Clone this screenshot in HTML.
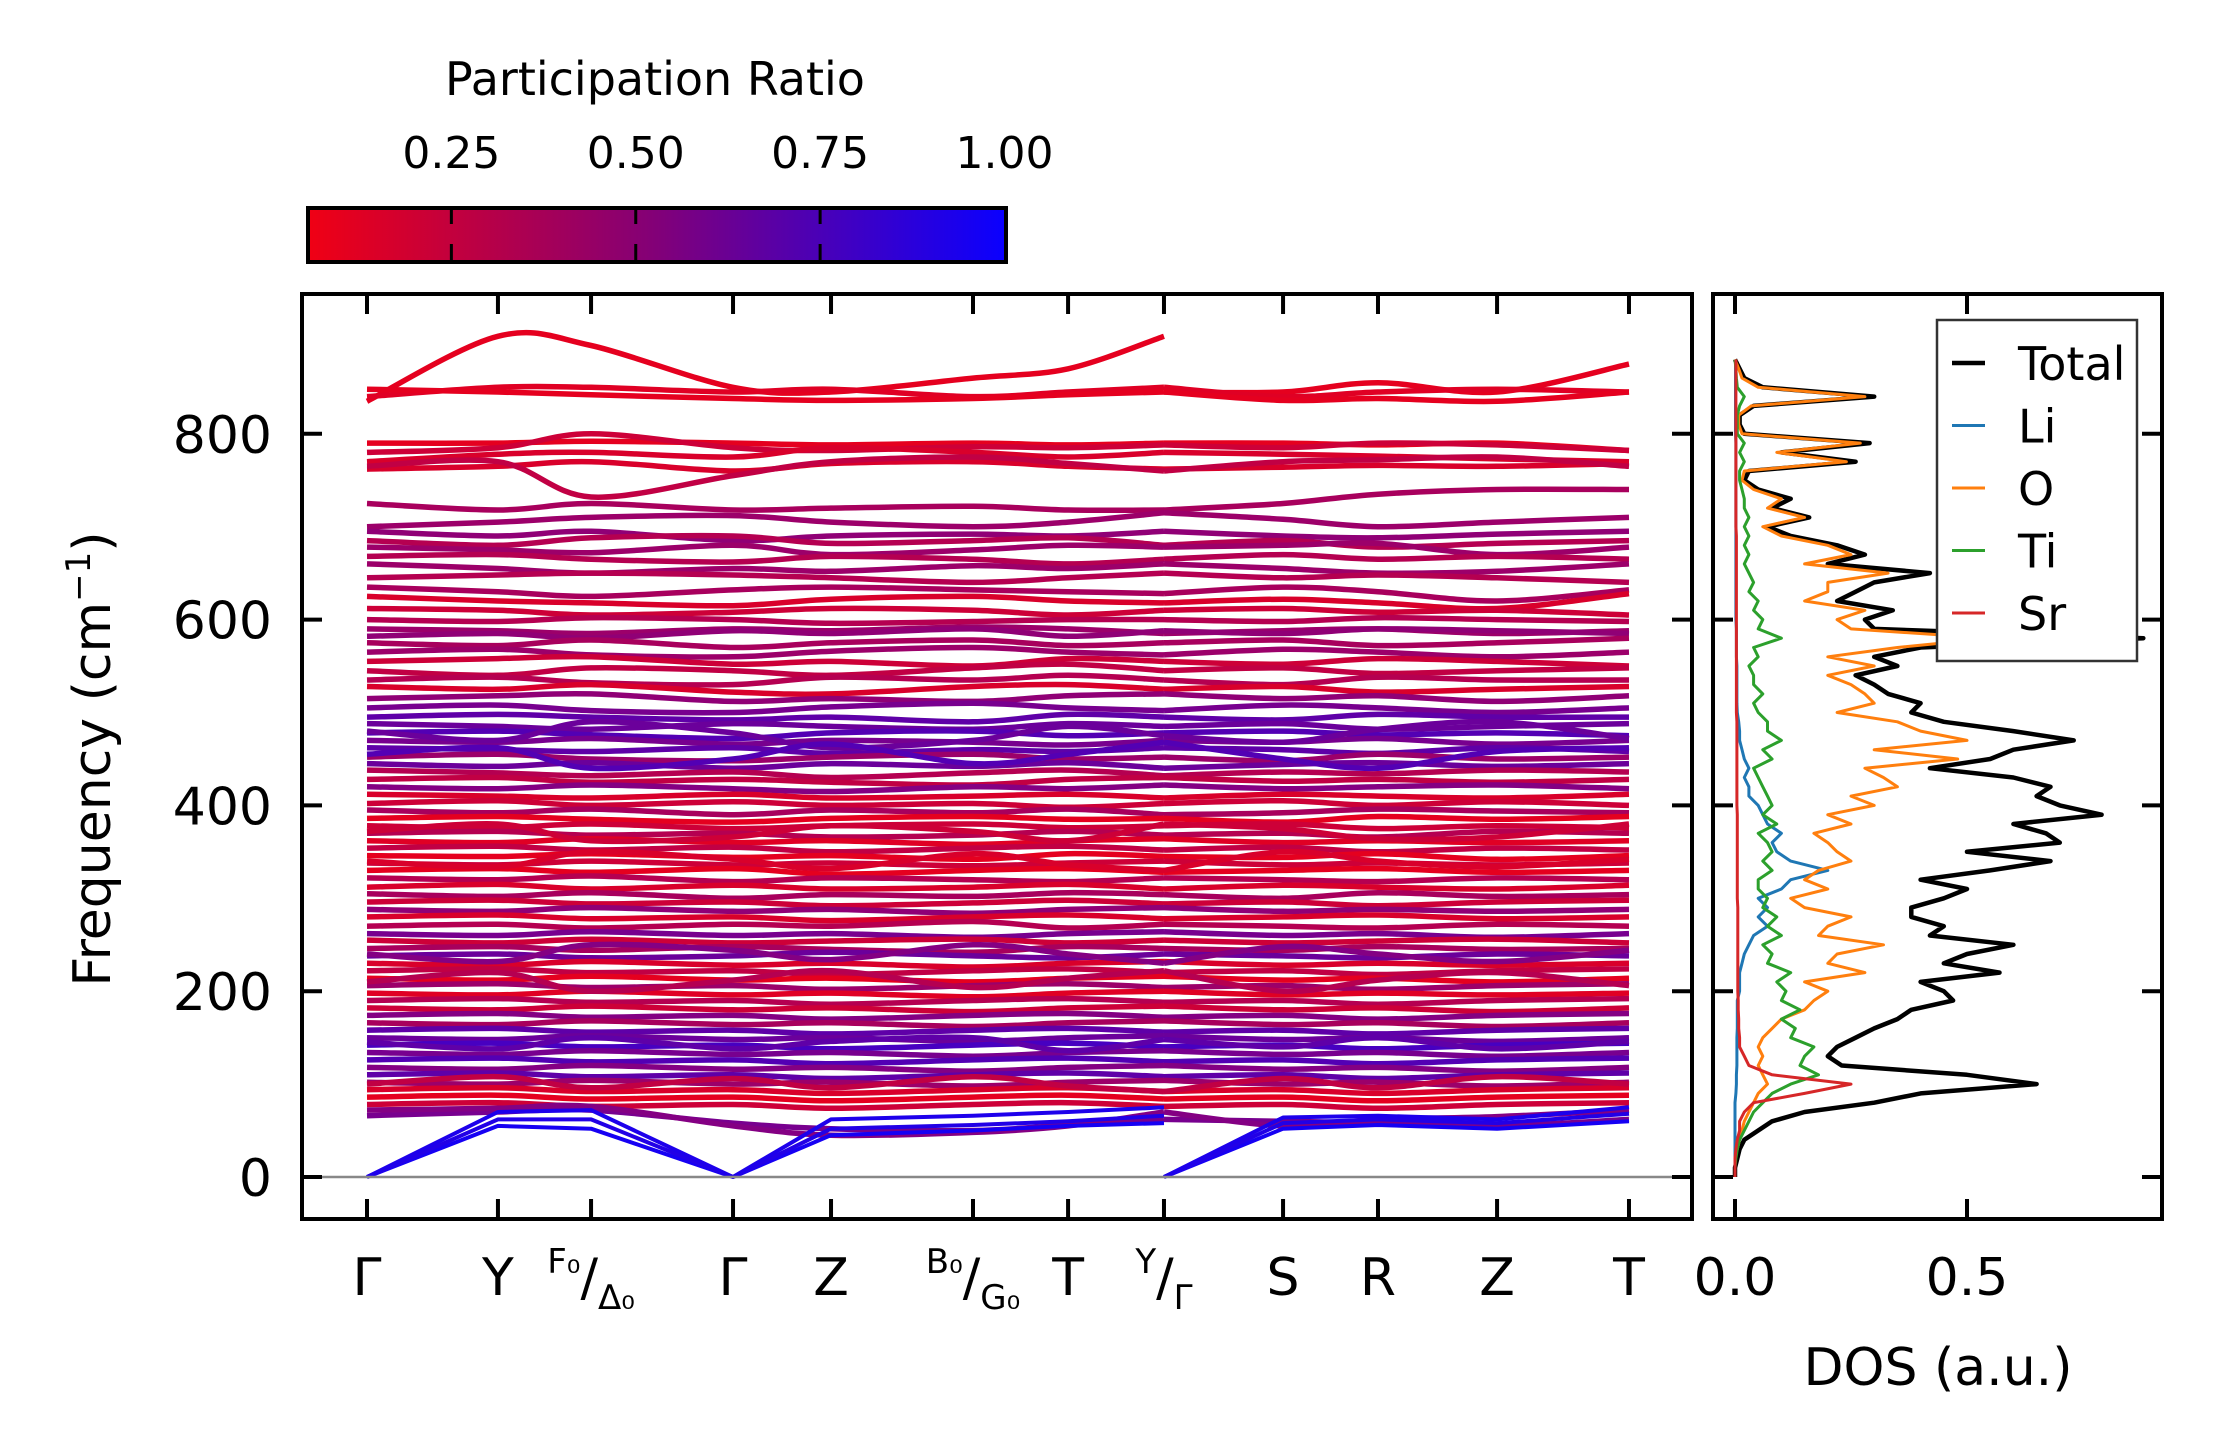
<!DOCTYPE html>
<html><head><meta charset="utf-8"><style>
html,body{margin:0;padding:0;background:#fff;}
svg{display:block;font-family:"DejaVu Sans","Liberation Sans",sans-serif;}
</style></head><body>
<svg id="fig" width="2222" height="1455" viewBox="0 0 2222 1455" xmlns="http://www.w3.org/2000/svg">
<defs>
<linearGradient id="cmap" x1="0" x2="1" y1="0" y2="0">
<stop offset="0" stop-color="rgb(240,0,20)"/><stop offset="0.5" stop-color="rgb(130,0,120)"/><stop offset="1" stop-color="rgb(10,0,255)"/>
</linearGradient>
<clipPath id="clipMain"><rect x="304" y="296" width="1386" height="921"/></clipPath>
<clipPath id="clipDos"><rect x="1715" y="296" width="445" height="921"/></clipPath>
</defs>
<rect width="2222" height="1455" fill="#fff"/>
<g>
<text x="655" y="95" font-size="46" text-anchor="middle">Participation Ratio</text>
<rect x="308" y="208" width="698" height="54" fill="url(#cmap)" stroke="#000" stroke-width="4"/>
<g id="cbticks"></g>
</g>
<g id="main">
<g id="bands" clip-path="url(#clipMain)"></g>
<line x1="304" x2="1690" y1="1177" y2="1177" stroke="#888" stroke-width="2.5"/>
<rect x="302" y="294" width="1390" height="925" fill="none" stroke="#000" stroke-width="4"/>
<g id="mainticks"></g>
<text transform="translate(110,759) rotate(-90)" font-size="52" text-anchor="middle">Frequency (cm<tspan baseline-shift="super" font-size="34">−1</tspan>)</text>
</g>
<g id="dos">
<g id="doslines" clip-path="url(#clipDos)"></g>
<rect x="1713" y="294" width="449" height="925" fill="none" stroke="#000" stroke-width="4"/>
<g id="dosticks"></g>
<text x="1938" y="1385" font-size="52" text-anchor="middle">DOS (a.u.)</text>
<g id="legend">
<rect x="1937" y="320" width="200" height="341" fill="#fff" stroke="#333" stroke-width="2.5"/>
</g>
</g>
</svg>
<script>
const kLabels = ["Γ","Y","F₀/Δ₀","Γ","Z","B₀/G₀","T","Y/Γ","S","R","Z","T"];
const kDist = [0,0.938,1.605,2.622,3.324,4.341,5.022,5.709,6.562,7.242,8.095,9.04];
const freqTicks = [0,200,400,600,800];
const prTicks = [0.25,0.5,0.75,1.0];
const prTickLabels = ["0.25","0.50","0.75","1.00"];
const bandPR = [0.1,0.12,0.1,0.1,0.2,0.15,0.15,0.25,0.35,0.4,0.45,0.3,0.4,0.3,0.4,0.3,0.35,0.15,0.2,0.3,0.4,
0.45,0.35,0.4,0.2,0.25,0.3,0.15,0.45,0.55,0.65,0.6,0.7,0.55,0.65,0.4,0.6,0.3,0.25,0.5,0.15,0.2,0.35,0.1,0.2,0.3,0.12,0.25,0.1,0.2,0.1,0.3,0.15,0.35,0.2,0.45,0.15,0.3,0.55,0.2,0.35,0.6,0.15,0.25,0.1,0.4,0.12,0.3,0.2,0.5,0.35,0.65,0.6,0.75,0.55,0.7,0.5,0.65,0.4,0.15,0.1,0.2,0.55,0.5,
0.6,0.7,0.2,0.15,0.5,0.3,0.65,0.25];
const bandGammaRight = [845];
const bandFreq = [
[835,905,895,850,845,860,870,905,845,855,845,875],
[840,850,850,845,848,840,845,850,840,845,848,845],
[848,845,842,838,836,838,842,845,836,838,835,845],
[790,790,792,790,788,790,788,790,790,788,790,782],
[780,785,800,785,782,786,785,788,785,790,788,782],
[770,778,780,775,785,780,775,780,778,776,773,770],
[762,765,770,760,768,770,765,762,764,766,765,768],
[765,770,732,755,770,775,768,760,770,772,775,765],
[725,718,725,718,720,722,718,718,725,735,740,740],
[700,705,710,712,705,700,705,715,708,700,705,710],
[695,690,695,685,690,692,690,695,690,688,692,695],
[685,680,688,690,682,685,688,680,685,678,682,685],
[678,675,672,680,670,675,680,678,680,682,670,678],
[668,670,665,662,668,665,660,665,670,665,668,665],
[660,655,650,655,652,658,655,660,655,650,652,660],
[645,648,650,648,645,640,645,650,645,648,645,640],
[635,630,625,632,635,632,630,628,635,630,620,632],
[625,620,618,615,622,625,620,618,622,618,612,628],
[612,610,605,608,612,610,605,610,612,608,610,605],
[600,598,602,600,596,598,600,600,598,602,600,598],
[590,588,585,590,588,592,590,585,588,590,585,588],
[582,585,580,588,585,590,582,588,585,590,588,585],
[575,572,578,570,575,578,572,575,578,572,575,580],
[565,568,562,560,566,570,565,562,568,565,560,565],
[555,558,560,552,555,550,558,555,552,558,555,550],
[545,540,548,545,540,548,552,545,548,542,545,548],
[535,538,532,530,538,535,540,535,530,538,535,535],
[528,525,530,522,520,528,530,525,528,522,525,528],
[515,518,520,512,515,512,518,520,515,518,512,518],
[505,508,502,500,506,510,505,502,508,505,500,505],
[495,498,495,492,495,490,498,495,492,498,495,495],
[488,485,482,488,485,482,488,485,488,482,485,488],
[478,480,476,472,478,480,475,478,480,476,478,475],
[470,468,472,466,470,468,465,470,468,472,466,470],
[462,460,458,462,456,460,458,462,460,456,462,458],
[452,455,450,448,452,455,450,452,448,455,450,452],
[445,442,446,440,445,442,446,440,444,446,442,445],
[438,435,432,436,430,435,438,432,436,434,438,436],
[428,430,425,428,425,422,428,430,426,428,425,428],
[420,418,422,418,415,420,418,422,418,420,422,418],
[412,410,408,412,408,410,412,408,412,410,408,412],
[402,405,400,404,400,402,398,402,405,400,404,400],
[395,392,396,390,395,392,396,390,392,396,394,392],
[386,388,385,382,386,388,385,386,382,388,385,388],
[378,376,380,375,378,380,376,378,380,375,378,376],
[370,372,368,370,366,368,372,368,370,366,372,370],
[362,360,364,360,362,358,362,364,360,362,360,362],
[354,356,352,355,350,354,356,352,355,350,354,352],
[346,345,348,344,346,342,348,345,344,348,342,346],
[338,336,340,336,338,335,338,340,336,338,336,338],
[330,332,328,332,326,330,332,328,330,332,328,330],
[322,320,324,318,322,320,318,322,320,318,322,320],
[312,315,310,314,310,312,315,310,314,312,310,314],
[305,302,306,300,304,302,306,304,300,306,302,304],
[296,298,294,296,292,295,298,294,296,292,296,298],
[288,286,290,286,288,284,288,290,286,288,286,288],
[280,282,278,280,276,280,282,278,280,282,278,280],
[270,272,268,272,270,275,268,272,270,268,272,270],
[262,260,264,260,262,258,262,264,260,262,258,262],
[255,252,256,252,254,256,252,255,252,254,256,252],
[246,248,244,248,245,242,248,246,244,248,245,246],
[238,240,236,238,242,238,236,240,238,236,240,238],
[230,228,232,228,230,226,230,232,228,230,228,230],
[222,224,220,222,218,222,224,220,222,218,222,224],
[214,212,216,212,214,210,214,216,212,214,210,214],
[206,208,204,206,202,206,208,204,206,202,206,208],
[198,196,200,196,198,194,198,200,196,198,196,198],
[190,192,188,190,186,190,192,188,190,186,190,192],
[182,180,184,180,182,178,182,184,180,182,178,182],
[174,176,172,174,170,174,176,172,174,170,174,176],
[166,164,168,164,166,162,166,168,164,166,162,166],
[158,160,156,158,154,158,160,156,158,154,158,160],
[150,148,152,148,150,146,150,152,148,150,146,150],
[142,144,140,142,138,142,144,140,142,138,142,144],
[134,132,136,132,134,130,134,136,132,134,130,134],
[126,128,124,126,122,126,128,124,126,122,126,128],
[118,116,120,116,118,114,118,120,116,118,114,118],
[110,112,108,110,106,110,112,108,110,106,110,112],
[102,100,104,100,102,98,102,104,100,102,98,102],
[94,96,92,94,90,94,96,92,94,90,94,96],
[86,88,84,86,82,86,88,84,86,82,86,88],
[78,80,76,78,74,78,80,76,78,74,78,80],
[66,70,72,58,52,50,56,62,60,58,55,62],
[72,74,76,55,45,48,55,70,55,62,65,72],
[480,470,490,478,462,470,485,475,468,482,490,472],
[455,462,440,450,466,445,455,468,450,440,458,462],
[372,380,362,366,378,372,362,380,375,364,366,380],
[340,334,350,342,332,348,336,330,350,340,334,342],
[240,232,250,244,234,250,240,230,248,240,232,244],
[210,220,200,212,222,204,214,222,200,212,220,206],
[145,138,150,138,146,150,136,148,140,150,138,146],
[100,108,96,106,96,108,98,92,106,96,108,100]
];
const acousticLeft = [[0,55,52,0,45,50,55,58],[0,62,62,0,52,56,60,66],[0,70,72,0,62,66,70,75]];
const acousticRight = [[0,52,56,52,60],[0,58,62,58,68],[0,64,66,62,75]];
const acousticPR = [0.95,0.9,0.92];
const dosFreq = [0,10,20,30,40,50,60,70,80,90,100,110,120,130,140,150,160,170,180,190,200,210,220,230,240,250,260,270,280,290,300,310,320,330,340,350,360,370,380,390,400,410,420,430,440,450,460,470,480,490,500,510,520,530,540,550,560,570,580,590,600,610,620,630,640,650,660,670,680,690,700,710,720,730,740,750,760,770,780,790,800,810,820,830,840,850,860,870,880];
const dosTotal = [0,0,0.005,0.01,0.02,0.05,0.08,0.15,0.3,0.4,
0.65,0.5,0.23,0.2,0.22,0.26,0.3,0.35,0.38,0.47,
0.45,0.4,0.57,0.45,0.5,0.6,0.42,0.45,0.38,0.38,
0.45,0.5,0.4,0.55,0.68,0.5,0.7,0.67,0.6,0.79,
0.7,0.65,0.68,0.6,0.42,0.55,0.6,0.73,0.6,0.45,
0.38,0.4,0.33,0.3,0.26,0.35,0.3,0.4,0.88,0.3,
0.28,0.34,0.22,0.26,0.3,0.42,0.2,0.28,0.22,0.12,
0.07,0.16,0.08,0.12,0.05,0.02,0.03,0.26,0.1,0.29,
0.02,0.01,0.01,0.04,0.30,0.06,0.02,0.01,0];
const dosO = [0,0,0,0.005,0.01,0.015,0.02,0.03,0.04,0.05,
0.07,0.06,0.05,0.06,0.05,0.06,0.08,0.1,0.15,0.17,
0.2,0.15,0.28,0.2,0.22,0.32,0.18,0.2,0.25,0.15,
0.12,0.2,0.15,0.18,0.25,0.22,0.2,0.17,0.25,0.2,
0.3,0.25,0.35,0.32,0.28,0.48,0.3,0.5,0.4,0.35,
0.22,0.3,0.28,0.25,0.2,0.3,0.2,0.35,0.55,0.25,
0.22,0.28,0.15,0.2,0.2,0.33,0.15,0.25,0.2,0.1,
0.06,0.15,0.07,0.1,0.04,0.015,0.02,0.24,0.09,0.27,
0.015,0.008,0.008,0.035,0.28,0.05,0.015,0.008,0];
const dosTi = [0,0,0.002,0.005,0.01,0.02,0.03,0.04,0.06,0.08,
0.12,0.18,0.14,0.15,0.17,0.12,0.13,0.1,0.14,0.1,
0.11,0.09,0.12,0.07,0.08,0.06,0.1,0.07,0.09,0.06,
0.07,0.05,0.05,0.08,0.06,0.08,0.07,0.05,0.09,0.06,
0.08,0.07,0.06,0.05,0.04,0.08,0.06,0.1,0.07,0.07,
0.05,0.04,0.06,0.04,0.04,0.03,0.05,0.04,0.1,0.05,
0.06,0.04,0.05,0.03,0.04,0.03,0.02,0.03,0.02,0.03,
0.02,0.03,0.02,0.02,0.015,0.01,0.01,0.02,0.01,0.02,
0.005,0.005,0.005,0.01,0.02,0.005,0.003,0.002,0];
const dosLi = [0,0,0,0,0,0,0,0,0,0.002,
0.003,0.003,0.004,0.004,0.004,0.004,0.005,0.005,0.005,0.005,
0.01,0.01,0.01,0.015,0.02,0.03,0.04,0.07,0.05,0.07,
0.05,0.1,0.12,0.2,0.12,0.09,0.08,0.1,0.07,0.06,
0.05,0.03,0.03,0.02,0.03,0.02,0.015,0.01,0.01,0.008,
0.005,0.004,0.004,0.004,0.004,0.004,0.003,0.003,0.003,0.003,
0.002,0.002,0.002,0.002,0.002,0.002,0.002,0.002,0.002,0.002,
0.002,0.002,0.002,0.002,0.002,0.002,0.002,0.002,0.002,0.002,
0.001,0.001,0.001,0.001,0.001,0.001,0.001,0.001,0.001];
const dosSr = [0,0,0,0.002,0.005,0.01,0.01,0.02,0.04,0.15,
0.25,0.08,0.03,0.02,0.01,0.01,0.008,0.008,0.007,0.007,
0.006,0.006,0.006,0.006,0.006,0.006,0.006,0.006,0.006,0.006,
0.005,0.005,0.005,0.005,0.005,0.005,0.005,0.005,0.005,0.005,
0.004,0.004,0.004,0.004,0.004,0.004,0.004,0.004,0.004,0.004,
0.003,0.003,0.003,0.003,0.003,0.003,0.003,0.003,0.003,0.003,
0.003,0.003,0.003,0.003,0.003,0.003,0.003,0.003,0.003,0.003,
0.002,0.002,0.002,0.002,0.002,0.002,0.002,0.002,0.002,0.002,
0.002,0.002,0.002,0.002,0.002,0.002,0.002,0.002,0.002];
const dosTicks = [0, 0.5];
const dosTickLabels = ["0.0","0.5"];
const dosSeriesNames = ["Total","Li","O","Ti","Sr"];

const NS = "http://www.w3.org/2000/svg";
const xK = d => 367 + d * 139.6;
const yF = f => 1177 - f * 0.929;
const xD = v => 1735 + v * 464;
const xPR = p => 267 + p * 737.5;
function prColor(p){ const t = Math.max(0, Math.min(1, (p - 0.056) / 0.944)); return "rgb(" + Math.round(240 - 230*t) + ",0," + Math.round(20 + 235*t) + ")"; }
function mk(tag, attrs, parent){ const e = document.createElementNS(NS, tag); for (const k in attrs) e.setAttribute(k, attrs[k]); parent.appendChild(e); return e; }
function smoothPath(pts){
  let d = "M" + pts[0][0].toFixed(1) + "," + pts[0][1].toFixed(1);
  for (let i = 0; i < pts.length - 1; i++){
    const p0 = pts[Math.max(0,i-1)], p1 = pts[i], p2 = pts[i+1], p3 = pts[Math.min(pts.length-1,i+2)];
    const c1x = p1[0] + (p2[0]-p0[0])/6, c1y = p1[1] + (p2[1]-p0[1])/6;
    const c2x = p2[0] - (p3[0]-p1[0])/6, c2y = p2[1] - (p3[1]-p1[1])/6;
    d += "C" + c1x.toFixed(1)+","+c1y.toFixed(1)+" "+c2x.toFixed(1)+","+c2y.toFixed(1)+" "+p2[0].toFixed(1)+","+p2[1].toFixed(1);
  }
  return d;
}
function linePath(pts){ return "M" + pts.map(p => p[0].toFixed(1)+","+p[1].toFixed(1)).join("L"); }
const gB = document.getElementById("bands");
bandFreq.forEach((vals, bi) => {
  const col = prColor(bandPR[bi]);
  const left = vals.slice(0,8).map((v,i) => [xK(kDist[i]), yF(v)]);
  const right = vals.slice(7).map((v,i) => [xK(kDist[i+7]), yF(v)]);
  if (bandGammaRight[bi] !== undefined) right[0][1] = yF(bandGammaRight[bi]);
  const p1 = mk("path", {d: smoothPath(left), fill:"none", stroke:col, "stroke-width":5.5}, gB);
  
  
  const p2 = mk("path", {d: smoothPath(right), fill:"none", stroke:col, "stroke-width":5.5}, gB);
  
  
});
acousticLeft.forEach((vals, ai) => {
  const col = prColor(acousticPR[ai]);
  const left = vals.map((v,i) => [xK(kDist[i]), yF(v)]);
  const right = acousticRight[ai].map((v,i) => [xK(kDist[i+7]), yF(v)]);
  const p1 = mk("path", {d: linePath(left), fill:"none", stroke:col, "stroke-width":4, "stroke-linejoin":"round"}, gB);
  
  
  const p2 = mk("path", {d: linePath(right), fill:"none", stroke:col, "stroke-width":4, "stroke-linejoin":"round"}, gB);
  
  
});
const gT = document.getElementById("mainticks");
kDist.forEach((d, i) => {
  const x = xK(d);
  mk("line", {x1:x, x2:x, y1:1219, y2:1199, stroke:"#000", "stroke-width":4}, gT);
  mk("line", {x1:x, x2:x, y1:294, y2:314, stroke:"#000", "stroke-width":4}, gT);
  const lab = kLabels[i];
  const t = mk("text", {x:x, y:1295, "font-size":52, "text-anchor":"middle"}, gT);
  if (lab.indexOf("/") >= 0) {
    const parts = lab.split("/");
    const a = document.createElementNS(NS,"tspan"); a.setAttribute("font-size","34"); a.setAttribute("dy","-22");
    a.textContent = parts[0]; t.appendChild(a);
    const s = document.createElementNS(NS,"tspan"); s.setAttribute("dy","22"); s.textContent = "/"; t.appendChild(s);
    const b = document.createElementNS(NS,"tspan"); b.setAttribute("font-size","34"); b.setAttribute("dy","14");
    b.textContent = parts[1]; t.appendChild(b);
  } else {
    t.textContent = lab;
  }
  
  
});
freqTicks.forEach(f => {
  const y = yF(f);
  mk("line", {x1:302, x2:322, y1:y, y2:y, stroke:"#000", "stroke-width":4}, gT);
  mk("line", {x1:1692, x2:1672, y1:y, y2:y, stroke:"#000", "stroke-width":4}, gT);
  const t = mk("text", {x:272, y:y+19, "font-size":52, "text-anchor":"end"}, gT);
  t.textContent = String(f);
  
  
});
const gC = document.getElementById("cbticks");
prTicks.forEach((p, i) => {
  const x = xPR(p);
  if (p < 1) mk("line", {x1:x, x2:x, y1:208, y2:262, stroke:"#000", "stroke-width":3, "stroke-dasharray":"16,20"}, gC);
  const t = mk("text", {x:x, y:168, "font-size":44, "text-anchor":"middle"}, gC);
  t.textContent = prTickLabels[i];
  
  
});
const gD = document.getElementById("doslines");
const dosSeries = [dosTotal, dosLi, dosO, dosTi, dosSr];
const dosColors = ["#000000","#1f77b4","#ff7f0e","#2ca02c","#d62728"];
const dosWidths = [4.5,3,3,3,3];
dosSeries.forEach((vals, si) => {
  const pts = vals.map((v,i) => xD(v).toFixed(1) + "," + yF(dosFreq[i]).toFixed(1)).join(" ");
  const pl = mk("polyline", {points:pts, fill:"none", stroke:dosColors[si], "stroke-width":dosWidths[si], "stroke-linejoin":"round"}, gD);
  
  
});
const gDT = document.getElementById("dosticks");
freqTicks.forEach(f => {
  const y = yF(f);
  mk("line", {x1:1713, x2:1733, y1:y, y2:y, stroke:"#000", "stroke-width":4}, gDT);
  mk("line", {x1:2162, x2:2142, y1:y, y2:y, stroke:"#000", "stroke-width":4}, gDT);
});
dosTicks.forEach((v, i) => {
  const x = xD(v);
  mk("line", {x1:x, x2:x, y1:1219, y2:1199, stroke:"#000", "stroke-width":4}, gDT);
  mk("line", {x1:x, x2:x, y1:294, y2:314, stroke:"#000", "stroke-width":4}, gDT);
  const t = mk("text", {x:x, y:1295, "font-size":52, "text-anchor":"middle"}, gDT);
  t.textContent = dosTickLabels[i];
  
  
});
const gL = document.getElementById("legend");
dosSeriesNames.forEach((n, i) => {
  const y = 363 + i * 62.5;
  const ln = mk("line", {x1:1952, x2:1985, y1:y, y2:y, stroke:dosColors[i], "stroke-width": i === 0 ? 4.5 : 3}, gL);
  
  
  const t = mk("text", {x:2018, y:y+17, "font-size":46}, gL);
  t.textContent = n;
  
  
});
</script>
</body></html>
